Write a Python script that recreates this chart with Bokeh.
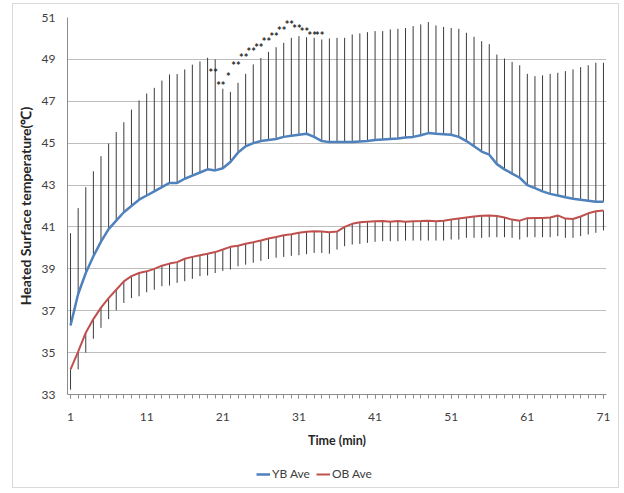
from bokeh.plotting import figure
from bokeh.models import ColumnDataSource, FixedTicker, Legend, LegendItem, Range1d
from bokeh.layouts import column
from bokeh.core.properties import value
from bokeh.embed import file_html
from bokeh.resources import INLINE

time_min = list(range(1, 72))

yb_ave = [36.3, 37.8, 38.8, 39.6, 40.3, 40.9, 41.3, 41.7, 42.0, 42.3,
          42.5, 42.7, 42.9, 43.1, 43.1, 43.3, 43.45, 43.6, 43.75, 43.7,
          43.8, 44.1, 44.55, 44.85, 45.0, 45.1, 45.15, 45.2, 45.3, 45.35,
          45.4, 45.45, 45.3, 45.1, 45.05, 45.05, 45.05, 45.05, 45.08, 45.1,
          45.15, 45.18, 45.2, 45.22, 45.27, 45.3, 45.38, 45.48, 45.45, 45.43,
          45.4, 45.3, 45.1, 44.85, 44.6, 44.45, 44.0, 43.75, 43.55, 43.35,
          43.0, 42.85, 42.7, 42.58, 42.5, 42.42, 42.35, 42.3, 42.25, 42.2,
          42.2]

yb_upper = [40.7, 41.9, 42.9, 43.66, 44.38, 44.98, 45.53, 46.0, 46.6, 47.04,
            47.37, 47.64, 47.99, 48.28, 48.3, 48.52, 48.75, 48.9, 49.08, 49.0,
            47.6, 47.45, 47.88, 48.31, 48.76, 49.07, 49.36, 49.58, 49.79, 50.03,
            50.11, 50.06, 50.03, 49.95, 50.0, 50.03, 50.03, 50.19, 50.24, 50.3,
            50.35, 50.35, 50.43, 50.46, 50.5, 50.59, 50.67, 50.78, 50.62, 50.55,
            50.5, 50.46, 50.27, 50.08, 49.87, 49.73, 49.23, 49.04, 48.88, 48.72,
            48.31, 48.2, 48.24, 48.31, 48.36, 48.44, 48.52, 48.63, 48.72, 48.84,
            48.84]

ob_ave = [34.2, 35.05, 35.95, 36.6, 37.15, 37.6, 38.0, 38.4, 38.65, 38.8,
          38.88, 39.0, 39.15, 39.25, 39.32, 39.48, 39.57, 39.65, 39.72, 39.8,
          39.92, 40.05, 40.1, 40.2, 40.27, 40.35, 40.45, 40.52, 40.6, 40.65,
          40.72, 40.77, 40.8, 40.78, 40.75, 40.78, 41.0, 41.15, 41.22, 41.25,
          41.27, 41.28, 41.25, 41.28, 41.25, 41.27, 41.28, 41.3, 41.27, 41.3,
          41.35, 41.4, 41.45, 41.5, 41.53, 41.55, 41.52, 41.45, 41.35, 41.3,
          41.42, 41.43, 41.43, 41.45, 41.55, 41.4, 41.38, 41.5, 41.65, 41.75,
          41.78]

ob_lower = [33.23, 34.2, 35.0, 35.66, 36.18, 36.6, 37.02, 37.37, 37.6, 37.69,
            37.88, 38.0, 38.17, 38.2, 38.33, 38.41, 38.52, 38.65, 38.68, 38.8,
            38.9, 38.97, 39.12, 39.2, 39.29, 39.38, 39.47, 39.53, 39.57, 39.62,
            39.65, 39.7, 39.76, 39.76, 39.72, 39.92, 40.08, 40.16, 40.19, 40.24,
            40.29, 40.32, 40.32, 40.32, 40.35, 40.35, 40.35, 40.35, 40.35, 40.35,
            40.4, 40.4, 40.48, 40.48, 40.48, 40.51, 40.51, 40.51, 40.48, 40.4,
            40.51, 40.51, 40.51, 40.51, 40.56, 40.48, 40.48, 40.56, 40.64, 40.72,
            40.83]

star_time = list(range(20, 35))
star_value = [48.36, 47.75, 48.2, 48.7, 49.1, 49.39, 49.55, 49.84, 50.11, 50.4,
              50.67, 50.46, 50.32, 50.14, 50.16]
star_text = ["**", "**", "*", "**", "**", "**", "**", "**", "**", "**",
             "**", "**", "**", "**", "**"]

series_names = ["YB Ave", "OB Ave"]
x_major_ticks = [1, 11, 21, 31, 41, 51, 61, 71]
y_ticks = [33, 35, 37, 39, 41, 43, 45, 47, 49, 51]

FONT = "Lato"
BLUE = "#4F81BD"
RED = "#C0504D"

src = ColumnDataSource(dict(t=time_min, yb=yb_ave, ybu=yb_upper, ob=ob_ave, obl=ob_lower))
stars = ColumnDataSource(dict(t=star_time, v=star_value, s=star_text))

p = figure(width=605, height=458, x_range=Range1d(0.6, 71.4), y_range=Range1d(33, 51),
           output_backend="svg", toolbar_location=None,
           min_border_left=54, min_border_right=12, min_border_top=13, min_border_bottom=68)
p.outline_line_color = None
p.background_fill_color = "white"
p.border_fill_color = "white"

# error bars
p.segment(x0="t", y0="yb", x1="t", y1="ybu", source=src, line_color="#3c3c3c", line_width=1)
p.segment(x0="t", y0="ob", x1="t", y1="obl", source=src, line_color="#3c3c3c", line_width=1)

p.line("t", "yb", source=src, line_color=BLUE, line_width=2.5)
p.line("t", "ob", source=src, line_color=RED, line_width=2)

p.text(x="t", y="v", text="s", source=stars, text_font=value(FONT), text_font_size="11px",
       text_font_style="bold", text_color="#262626", text_align="center",
       text_baseline="middle", x_offset=-2)

# axes
p.xaxis.ticker = FixedTicker(ticks=x_major_ticks, minor_ticks=time_min)
p.yaxis.ticker = FixedTicker(ticks=y_ticks)
p.xgrid.grid_line_color = None
p.ygrid.ticker = FixedTicker(ticks=y_ticks)
p.ygrid.grid_line_color = "#bdbdbd"
p.ygrid.grid_line_width = 1

for ax in (p.xaxis, p.yaxis):
    ax.axis_line_color = "#8c8c8c"
    ax.major_label_text_font = FONT
    ax.major_label_text_font_size = "12px"
    ax.major_label_text_color = "#404040"
    ax.axis_label_text_font = FONT
    ax.axis_label_text_font_style = "bold"
    ax.axis_label_text_color = "#262626"

p.xaxis.axis_label = "Time (min)"
p.xaxis.axis_label_text_font_size = "12.5px"
p.xaxis.major_tick_in = 0
p.xaxis.major_tick_out = 4
p.xaxis.minor_tick_in = 0
p.xaxis.minor_tick_out = 4
p.xaxis.major_tick_line_color = "#8c8c8c"
p.xaxis.minor_tick_line_color = "#8c8c8c"
p.xaxis.major_label_standoff = 14
p.xaxis.axis_label_standoff = 9

p.yaxis.axis_label = "Heated Surface temperature(\u2103)"
p.yaxis.axis_label_text_font_size = "14px"
p.yaxis.major_tick_in = 0
p.yaxis.major_tick_out = 0
p.yaxis.minor_tick_line_color = None
p.yaxis.major_label_standoff = 12
p.yaxis.axis_label_standoff = 5

# legend strip below the chart (its lines reuse the series but fall outside its ranges)
p2 = figure(width=605, height=25, x_range=Range1d(-1, 0), y_range=Range1d(-1, 0),
            output_backend="svg", toolbar_location=None,
            x_axis_location=None, y_axis_location=None,
            min_border_left=0, min_border_right=0, min_border_top=0, min_border_bottom=0)
p2.outline_line_color = None
p2.xgrid.grid_line_color = None
p2.ygrid.grid_line_color = None
p2.border_fill_color = "white"
leg_yb = p2.line(x=time_min, y=yb_ave, line_color=BLUE, line_width=2.5)
leg_ob = p2.line(x=time_min, y=ob_ave, line_color=RED, line_width=2)

legend = Legend(items=[LegendItem(label=series_names[0], renderers=[leg_yb]),
                       LegendItem(label=series_names[1], renderers=[leg_ob])],
                location=(189, 6), orientation="horizontal",
                label_text_font=FONT, label_text_font_size="12px", label_text_color="#404040",
                glyph_width=14, glyph_height=10, label_height=10, label_standoff=2,
                spacing=6, padding=0, margin=0,
                border_line_color=None, background_fill_alpha=0)
p2.add_layout(legend, "center")

layout = column(p, p2, spacing=0)
layout.margin = (3, 0, 0, 12)
layout.styles = {"border": "1px solid #d9d9d9", "background-color": "white"}

open("out.html", "w").write(file_html(layout, INLINE))
